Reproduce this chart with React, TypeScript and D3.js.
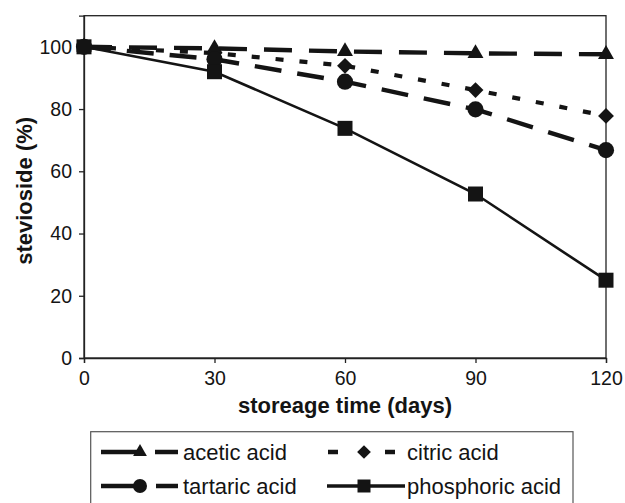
import React, { useEffect, useRef } from 'react'
import * as d3 from 'd3'

// storage days and stevioside remaining (%) per acid
const days = [0, 30, 60, 90, 120]
const acetic = [100, 99.5, 98.5, 97.9, 97.6]
const citric = [100, 98, 93.9, 86.1, 77.8]
const tartaric = [100, 96, 88.8, 79.9, 66.8]
const phosphoric = [100, 92, 73.8, 52.7, 25]

const xTicks = [0, 30, 60, 90, 120]
const yTicks = [0, 20, 40, 60, 80, 100]
const seriesNames = ['acetic acid', 'citric acid', 'tartaric acid', 'phosphoric acid']

const FONT = '"Liberation Sans", Arial, Helvetica, sans-serif'
const INK = '#141414'

const App = () => {
  const svgRef = useRef<SVGSVGElement>(null)

  useEffect(() => {
    const W = 625
    const H = 503
    const left = 84, right = 606, top = 15.7, bottom = 358

    const svg = d3.select(svgRef.current)
    svg.selectAll('*').remove()
    svg.attr('width', W).attr('height', H)

    const x = d3.scaleLinear().domain([0, 120]).range([left, right])
    const y = d3.scaleLinear().domain([0, 110]).range([bottom, top])

    const series = [
      { name: seriesNames[0], values: acetic, dash: '28,17', legendDash: '39,15,24', width: 4.4, symbol: d3.symbolTriangle, size: 110 },
      { name: seriesNames[1], values: citric, dash: '8,16', legendDash: '10,47,10', width: 4.2, symbol: d3.symbolDiamond2, size: 160 },
      { name: seriesNames[2], values: tartaric, dash: '27,16', legendDash: '40,15,24', width: 4.4, symbol: d3.symbolCircle, size: 205 },
      { name: seriesNames[3], values: phosphoric, dash: null, legendDash: null, width: 2.6, symbol: d3.symbolSquare, size: 225 },
    ]

    // plot frame
    svg.append('rect')
      .attr('x', left).attr('y', top)
      .attr('width', right - left).attr('height', bottom - top)
      .attr('fill', 'none').attr('stroke', '#222').attr('stroke-width', 1.3)

    // axes
    const xAxis = svg.append('g')
      .attr('transform', `translate(0,${bottom})`)
      .call(d3.axisBottom(x).tickValues(xTicks).tickSize(5).tickPadding(8))
    const yAxis = svg.append('g')
      .attr('transform', `translate(${left},0)`)
      .call(d3.axisLeft(y).tickValues(yTicks).tickSize(5).tickPadding(7))

    ;[xAxis, yAxis].forEach(g => {
      g.select('.domain').attr('stroke', '#222').attr('stroke-width', 1.3)
      g.selectAll('.tick line').attr('stroke', '#222').attr('stroke-width', 1.3)
      g.selectAll('.tick text')
        .attr('fill', INK)
        .style('font-family', FONT)
        .style('font-size', '19.5px')
    })

    // axis titles
    svg.append('text')
      .attr('x', (left + right) / 2).attr('y', 413)
      .attr('text-anchor', 'middle')
      .style('font-family', FONT).style('font-size', '22px').style('font-weight', 'bold')
      .attr('fill', INK)
      .text('storeage time (days)')

    svg.append('text')
      .attr('transform', `translate(32,${(top + bottom) / 2 + 4}) rotate(-90)`)
      .attr('text-anchor', 'middle')
      .style('font-family', FONT).style('font-size', '22px').style('font-weight', 'bold')
      .attr('fill', INK)
      .text('stevioside (%)')

    const line = d3.line<number>()
      .x((d, i) => x(days[i]))
      .y(d => y(d))

    // lines
    series.forEach(s => {
      svg.append('path')
        .attr('d', line(s.values))
        .attr('fill', 'none')
        .attr('stroke', INK)
        .attr('stroke-width', s.width)
        .attr('stroke-dasharray', s.dash)
    })

    // markers
    series.forEach(s => {
      svg.append('g')
        .selectAll('path')
        .data(s.values)
        .join('path')
          .attr('d', d3.symbol().type(s.symbol).size(s.size))
          .attr('transform', (d, i) => `translate(${x(days[i])},${y(d)})`)
          .attr('fill', INK)
    })

    // legend
    const legend = svg.append('g')
    legend.append('rect')
      .attr('x', 90.7).attr('y', 431.7)
      .attr('width', 573 - 90.7).attr('height', 90)
      .attr('fill', 'white').attr('stroke', '#555').attr('stroke-width', 1.2)

    const cols = [
      { x1: 101, x2: 178, mx: 140, tx: 183 },
      { x1: 327, x2: 405, mx: 364, tx: 407 },
    ]
    const rows = [452, 486]

    series.forEach((s, i) => {
      const c = cols[i % 2]
      const ry = rows[Math.floor(i / 2)]
      const lineEnd = s.legendDash ? c.x2 - (i === 1 ? 10 : 0) : c.x2
      legend.append('line')
        .attr('x1', c.x1 + (i === 1 ? 1 : 0)).attr('x2', lineEnd)
        .attr('y1', ry).attr('y2', ry)
        .attr('stroke', INK).attr('stroke-width', s.dash ? 4.5 : 3.5)
        .attr('stroke-dasharray', s.legendDash)
      legend.append('path')
        .attr('d', d3.symbol().type(s.symbol).size(s.size * 0.75)())
        .attr('transform', `translate(${c.mx},${ry})`)
        .attr('fill', INK)
      legend.append('text')
        .attr('x', c.tx).attr('y', ry)
        .attr('dy', '0.35em')
        .style('font-family', FONT).style('font-size', '22px')
        .attr('fill', INK)
        .text(s.name)
    })
  }, [])

  return (
    <div>
      <svg ref={svgRef} style={{ position: 'absolute', left: 0, top: 0, background: 'white' }}></svg>
    </div>
  )
}

export default App
